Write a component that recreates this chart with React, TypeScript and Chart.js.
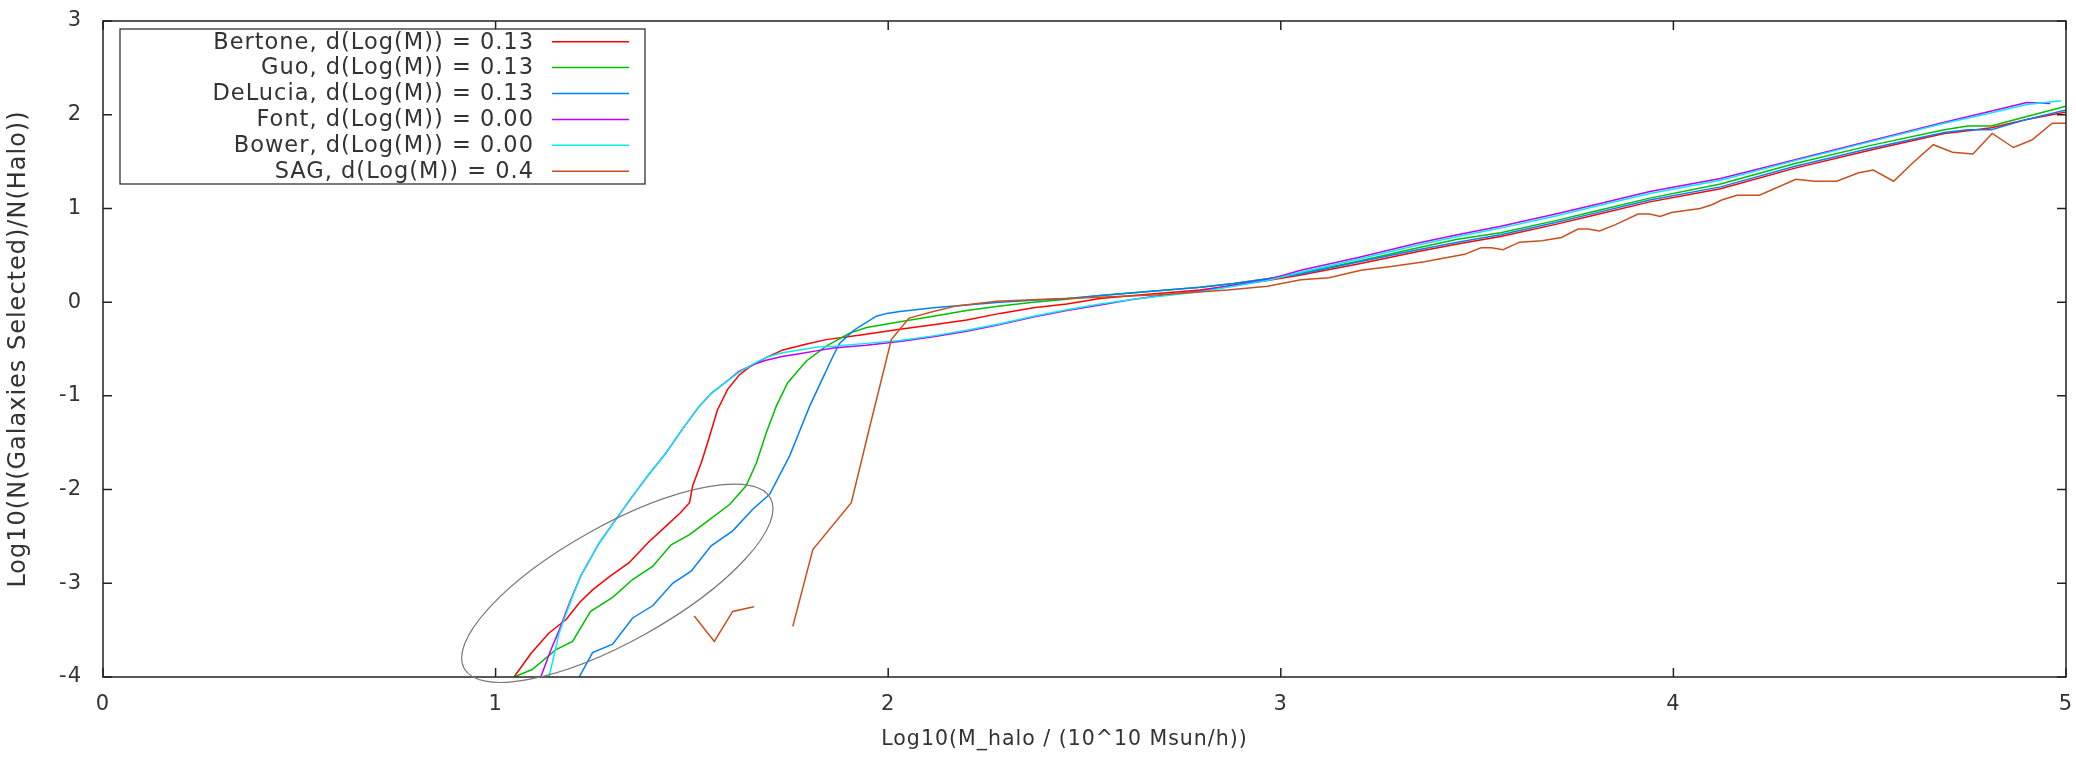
import React, { useEffect, useRef } from 'react';
import { Chart, registerables } from 'chart.js';

Chart.register(...registerables);

// ---------- data ----------
const seriesLabels = [
  'Bertone, d(Log(M)) = 0.13',
  'Guo, d(Log(M)) = 0.13',
  'DeLucia, d(Log(M)) = 0.13',
  'Font, d(Log(M)) = 0.00',
  'Bower, d(Log(M)) = 0.00',
  'SAG, d(Log(M)) = 0.4',
];
const seriesColors = ['#ff0000', '#00c000', '#0080ff', '#c000ff', '#00eeee', '#c8501e'];

const xTicks = [0, 1, 2, 3, 4, 5];
const yTicks = [-4, -3, -2, -1, 0, 1, 2, 3];

const bertone: [number, number][] = [
  [1.047, -4.0], [1.09, -3.75], [1.136, -3.53], [1.179, -3.39], [1.215, -3.2], [1.247, -3.07],
  [1.29, -2.93], [1.34, -2.78], [1.39, -2.56], [1.434, -2.39], [1.47, -2.25], [1.494, -2.14],
  [1.502, -1.96], [1.525, -1.7], [1.545, -1.43], [1.565, -1.15], [1.591, -0.93], [1.62, -0.78],
  [1.647, -0.69], [1.69, -0.59], [1.732, -0.51], [1.79, -0.45], [1.842, -0.4], [1.93, -0.35],
  [2.03, -0.29], [2.115, -0.24], [2.2, -0.19], [2.285, -0.12], [2.37, -0.06], [2.455, -0.02],
  [2.54, 0.04], [2.625, 0.07], [2.71, 0.1], [2.795, 0.13], [2.88, 0.18], [2.966, 0.23],
  [3.051, 0.29], [3.2, 0.41], [3.35, 0.54], [3.45, 0.62], [3.56, 0.7], [3.7, 0.83], [3.8, 0.93],
  [3.94, 1.07], [4.12, 1.21], [4.31, 1.43], [4.5, 1.62], [4.69, 1.8], [4.75, 1.83], [4.81, 1.86],
  [4.9, 1.95], [5.0, 2.03],
];

const guo: [number, number][] = [
  [1.047, -4.0], [1.093, -3.92], [1.153, -3.71], [1.196, -3.62], [1.242, -3.3], [1.298, -3.15],
  [1.349, -2.96], [1.4, -2.82], [1.447, -2.59], [1.494, -2.48], [1.545, -2.32], [1.596, -2.16],
  [1.638, -1.96], [1.664, -1.72], [1.689, -1.4], [1.715, -1.11], [1.744, -0.86], [1.791, -0.63],
  [1.842, -0.47], [1.902, -0.33], [1.945, -0.27], [2.03, -0.21], [2.115, -0.15], [2.2, -0.09],
  [2.285, -0.04], [2.37, 0.0], [2.455, 0.03], [2.54, 0.07], [2.625, 0.1], [2.71, 0.13],
  [2.795, 0.16], [2.88, 0.2], [2.966, 0.25], [3.051, 0.31], [3.2, 0.44], [3.35, 0.58],
  [3.45, 0.67], [3.56, 0.74], [3.7, 0.87], [3.8, 0.97], [3.94, 1.11], [4.12, 1.26], [4.31, 1.48],
  [4.5, 1.67], [4.69, 1.84], [4.75, 1.88], [4.81, 1.88], [4.9, 1.98], [5.0, 2.09],
];

const delucia: [number, number][] = [
  [1.213, -4.0], [1.247, -3.74], [1.298, -3.65], [1.349, -3.37], [1.4, -3.24], [1.451, -3.0],
  [1.498, -2.87], [1.549, -2.6], [1.604, -2.44], [1.655, -2.21], [1.698, -2.05], [1.749, -1.64],
  [1.775, -1.37], [1.8, -1.11], [1.83, -0.84], [1.859, -0.58], [1.876, -0.44], [1.91, -0.31],
  [1.927, -0.26], [1.97, -0.15], [1.996, -0.12], [2.03, -0.1], [2.115, -0.06], [2.2, -0.03],
  [2.285, 0.0], [2.37, 0.02], [2.455, 0.04], [2.54, 0.07], [2.625, 0.1], [2.71, 0.13],
  [2.795, 0.16], [2.88, 0.2], [2.966, 0.25], [3.051, 0.3], [3.2, 0.43], [3.35, 0.56],
  [3.45, 0.64], [3.56, 0.72], [3.7, 0.85], [3.8, 0.95], [3.94, 1.09], [4.12, 1.23], [4.31, 1.45],
  [4.5, 1.64], [4.69, 1.81], [4.75, 1.84], [4.81, 1.84], [4.9, 1.95], [5.0, 2.05],
];

const font: [number, number][] = [
  [1.115, -4.0], [1.14, -3.72], [1.162, -3.5], [1.187, -3.22], [1.217, -2.92], [1.264, -2.57],
  [1.306, -2.32], [1.349, -2.07], [1.39, -1.84], [1.434, -1.61], [1.475, -1.36], [1.519, -1.11],
  [1.55, -0.97], [1.587, -0.85], [1.62, -0.74], [1.66, -0.66], [1.689, -0.62], [1.73, -0.58],
  [1.774, -0.55], [1.817, -0.52], [1.86, -0.49], [1.944, -0.46], [2.03, -0.42], [2.115, -0.37],
  [2.2, -0.31], [2.285, -0.24], [2.37, -0.16], [2.455, -0.09], [2.54, -0.03], [2.625, 0.03],
  [2.71, 0.08], [2.795, 0.12], [2.88, 0.18], [2.966, 0.24], [3.051, 0.34], [3.2, 0.48],
  [3.35, 0.63], [3.45, 0.72], [3.56, 0.81], [3.7, 0.94], [3.8, 1.04], [3.94, 1.18], [4.12, 1.32],
  [4.31, 1.52], [4.5, 1.72], [4.69, 1.92], [4.8, 2.03], [4.9, 2.13], [4.96, 2.12],
];

const bower: [number, number][] = [
  [1.136, -4.0], [1.162, -3.53], [1.187, -3.24], [1.217, -2.92], [1.264, -2.57], [1.306, -2.32],
  [1.349, -2.07], [1.39, -1.84], [1.434, -1.61], [1.475, -1.36], [1.519, -1.11], [1.55, -0.97],
  [1.587, -0.85], [1.62, -0.75], [1.66, -0.65], [1.689, -0.59], [1.73, -0.54], [1.774, -0.51],
  [1.817, -0.48], [1.86, -0.47], [1.944, -0.44], [2.03, -0.41], [2.115, -0.36], [2.2, -0.3],
  [2.285, -0.23], [2.37, -0.15], [2.455, -0.08], [2.54, -0.02], [2.625, 0.03], [2.71, 0.07],
  [2.795, 0.11], [2.88, 0.17], [2.966, 0.23], [3.051, 0.32], [3.2, 0.46], [3.35, 0.61],
  [3.45, 0.7], [3.56, 0.79], [3.7, 0.92], [3.8, 1.02], [3.94, 1.16], [4.12, 1.3], [4.31, 1.51],
  [4.5, 1.71], [4.69, 1.91], [4.8, 2.01], [4.9, 2.11], [4.988, 2.15],
];

const sag: [number, number | null][] = [
  [1.506, -3.35], [1.557, -3.62], [1.604, -3.3], [1.658, -3.25], [1.7, null],
  [1.757, -3.46], [1.808, -2.64], [1.906, -2.14], [1.953, -1.33], [2.008, -0.4], [2.053, -0.17],
  [2.115, -0.1], [2.174, -0.04], [2.276, 0.01], [2.4, 0.03], [2.52, 0.05], [2.69, 0.08],
  [2.864, 0.13], [2.966, 0.17], [3.051, 0.24], [3.123, 0.26], [3.204, 0.34], [3.281, 0.38],
  [3.366, 0.43], [3.468, 0.51], [3.51, 0.58], [3.536, 0.58], [3.566, 0.56], [3.608, 0.64],
  [3.665, 0.655], [3.715, 0.69], [3.757, 0.78], [3.783, 0.78], [3.812, 0.76], [3.851, 0.825],
  [3.91, 0.94], [3.94, 0.94], [3.966, 0.914], [3.995, 0.957], [4.068, 1.0], [4.098, 1.04],
  [4.123, 1.09], [4.162, 1.14], [4.219, 1.14], [4.312, 1.31], [4.359, 1.29], [4.416, 1.29],
  [4.472, 1.38], [4.509, 1.41], [4.561, 1.29], [4.608, 1.48], [4.662, 1.68], [4.711, 1.6],
  [4.763, 1.58], [4.812, 1.8], [4.866, 1.65], [4.913, 1.73], [4.965, 1.91], [5.0, 1.91],
];

// annotation ellipse, in data coordinates
const ellipseCenter = [1.31, -3.0];
const ellipseMajorEnd = [1.7, -2.09];
const ellipseMinorEnd = [1.384, -3.535];

const xTitle = 'Log10(M_halo / (10^10 Msun/h))';
const yTitle = 'Log10(N(Galaxies Selected)/N(Halo))';

const FONT = "'DejaVu Sans', sans-serif";
const TEXT = '#333333';

const spacingPlugin = {
  id: 'spacing',
  beforeDraw(chart: any) {
    (chart.ctx as any).letterSpacing = '1px';
  },
};

const framePlugin = {
  id: 'frame',
  afterDatasetsDraw(chart: any) {
    const { ctx, chartArea: a, scales } = chart;
    const x = scales.x, y = scales.y;
    ctx.save();
    ctx.strokeStyle = '#222';
    ctx.lineWidth = 1.5;
    ctx.strokeRect(a.left, a.top, a.right - a.left, a.bottom - a.top);
    ctx.beginPath();
    for (const v of xTicks) {
      const px = x.getPixelForValue(v);
      ctx.moveTo(px, a.bottom); ctx.lineTo(px, a.bottom - 9);
      ctx.moveTo(px, a.top); ctx.lineTo(px, a.top + 9);
    }
    for (const v of yTicks) {
      const py = y.getPixelForValue(v);
      ctx.moveTo(a.left, py); ctx.lineTo(a.left + 9, py);
      ctx.moveTo(a.right, py); ctx.lineTo(a.right - 9, py);
    }
    ctx.stroke();

    // ellipse annotation
    const cx = x.getPixelForValue(ellipseCenter[0]);
    const cy = y.getPixelForValue(ellipseCenter[1]);
    const mx = x.getPixelForValue(ellipseMajorEnd[0]);
    const my = y.getPixelForValue(ellipseMajorEnd[1]);
    const nx = x.getPixelForValue(ellipseMinorEnd[0]);
    const ny = y.getPixelForValue(ellipseMinorEnd[1]);
    const ra = Math.hypot(mx - cx, my - cy);
    const rb = Math.hypot(nx - cx, ny - cy);
    const ang = Math.atan2(my - cy, mx - cx);
    ctx.beginPath();
    ctx.strokeStyle = '#777';
    ctx.lineWidth = 1.2;
    ctx.ellipse(cx, cy, ra, rb, ang, 0, Math.PI * 2);
    ctx.stroke();

    // axis titles
    ctx.fillStyle = TEXT;
    (ctx as any).letterSpacing = '1px';
    ctx.font = `20.5px ${FONT}`;
    ctx.textAlign = 'center';
    ctx.textBaseline = 'middle';
    ctx.fillText(xTitle, (a.left + a.right) / 2 - 20, 740);
    ctx.font = `24px ${FONT}`;
    ctx.translate(19, (a.top + a.bottom) / 2);
    ctx.rotate(-Math.PI / 2);
    ctx.fillText(yTitle, 0, 0);
    ctx.restore();
  },
};

const keyPlugin = {
  id: 'key',
  afterDraw(chart: any) {
    const { ctx, chartArea: a } = chart;
    const left = a.left + 17, top = a.top + 8;
    const w = 525, h = 155;
    ctx.save();
    ctx.fillStyle = '#fff';
    ctx.fillRect(left, top, w, h);
    ctx.strokeStyle = '#222';
    ctx.lineWidth = 1.2;
    ctx.strokeRect(left, top, w, h);
    ctx.font = `22.5px ${FONT}`;
    (ctx as any).letterSpacing = '1px';
    ctx.textAlign = 'right';
    ctx.textBaseline = 'middle';
    chart.data.datasets.forEach((ds: any, i: number) => {
      const ry = top + 12.7 + i * 25.9;
      ctx.fillStyle = TEXT;
      ctx.fillText(ds.label, left + 414, ry + 1);
      ctx.beginPath();
      ctx.strokeStyle = ds.borderColor;
      ctx.lineWidth = 1.5;
      ctx.moveTo(left + 432, ry);
      ctx.lineTo(left + 509, ry);
      ctx.stroke();
    });
    ctx.restore();
  },
};

export default function App() {
  const ref = useRef<HTMLCanvasElement>(null);
  useEffect(() => {
    document.body.style.margin = '0';
    Chart.defaults.font.family = FONT;
    const series = [bertone, guo, delucia, font, bower, sag];
    const chart = new Chart(ref.current as HTMLCanvasElement, {
      type: 'line',
      data: {
        datasets: series.map((s, i) => ({
          label: seriesLabels[i],
          data: s.map(([x, y]) => ({ x, y })),
          borderColor: seriesColors[i],
          backgroundColor: seriesColors[i],
          borderWidth: 1.5,
          pointRadius: 0,
          fill: false,
          tension: 0,
          spanGaps: false,
          order: 5 - i,
        })),
      } as any,
      options: {
        animation: false,
        responsive: true,
        maintainAspectRatio: false,
        events: [],
        layout: { padding: { top: 21, right: 10, left: 0, bottom: 0 } },
        plugins: { legend: { display: false }, tooltip: { enabled: false } },
        scales: {
          x: {
            type: 'linear',
            min: 0,
            max: 5,
            afterBuildTicks: (s: any) => { s.ticks = xTicks.map((v) => ({ value: v })); },
            afterFit: (s: any) => {
              s.height = 82;
              s.paddingLeft = 0; s.paddingRight = 0; s.paddingTop = 0; s.paddingBottom = 0;
            },
            grid: { display: false, drawTicks: false },
            border: { display: false },
            ticks: { padding: 15, color: TEXT, font: { size: 21 } },
          },
          y: {
            type: 'linear',
            min: -4,
            max: 3,
            afterBuildTicks: (s: any) => { s.ticks = yTicks.map((v) => ({ value: v })); },
            afterFit: (s: any) => {
              s.width = 103;
              s.paddingLeft = 0; s.paddingRight = 0; s.paddingTop = 0; s.paddingBottom = 0;
            },
            grid: { display: false, drawTicks: false },
            border: { display: false },
            ticks: { padding: 21, color: TEXT, font: { size: 21 } },
          },
        },
      } as any,
      plugins: [spacingPlugin, framePlugin, keyPlugin],
    });
    return () => chart.destroy();
  }, []);
  return (
    <div style={{ width: 2076, height: 759, position: 'relative' }}>
      <canvas ref={ref} />
    </div>
  );
}
